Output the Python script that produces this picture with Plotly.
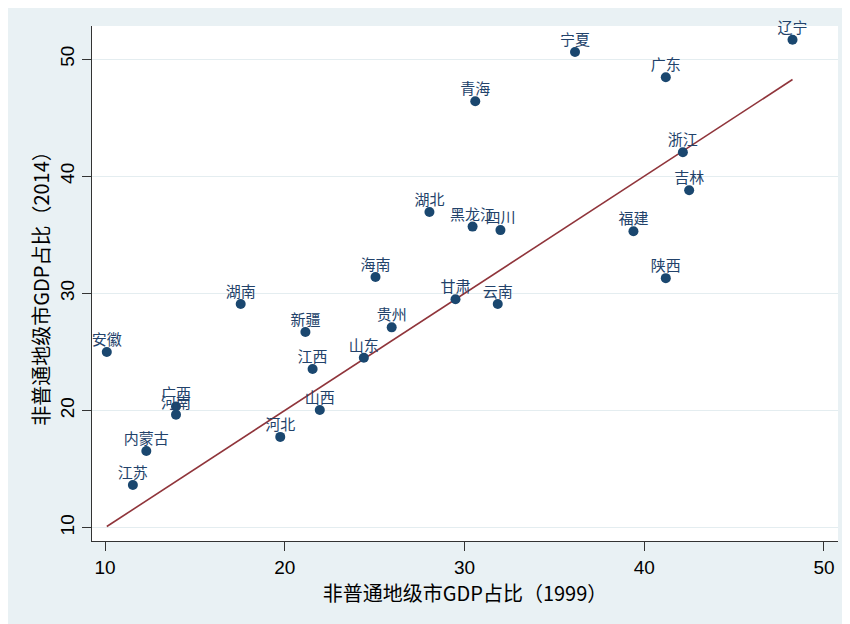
import plotly.graph_objects as go

# ---- data ----
provinces = ["辽宁", "宁夏", "广东", "青海", "浙江", "吉林", "福建", "陕西",
             "湖北", "黑龙江", "四川", "海南", "甘肃", "云南", "湖南", "新疆",
             "贵州", "山东", "江西", "安徽", "广西", "河南", "山西", "河北",
             "内蒙古", "江苏"]
gdp_share_1999 = [48.25, 36.15, 41.2, 30.6, 42.15, 42.5, 39.4, 41.2,
                  28.05, 30.45, 32.0, 25.05, 29.5, 31.85, 17.55, 21.15,
                  25.95, 24.4, 21.55, 10.1, 13.95, 13.95, 21.95, 19.75,
                  12.3, 11.55]
gdp_share_2014 = [51.65, 50.6, 48.45, 46.4, 42.05, 38.8, 35.3, 31.3,
                  36.95, 35.7, 35.4, 31.4, 29.5, 29.1, 29.1, 26.7,
                  27.1, 24.5, 23.55, 25.0, 20.35, 19.65, 20.05, 17.75,
                  16.55, 13.65]
x_ticks = [10, 20, 30, 40, 50]
y_ticks = [10, 20, 30, 40, 50]
x_title = "非普通地级市GDP占比（1999）"
y_title = "非普通地级市GDP占比（2014）"

# 45-degree reference line across the data's x span
line_lo = min(gdp_share_1999)
line_hi = max(gdp_share_1999)

NAVY = "#1a476f"
MAROON = "#90353b"
BG = "#e9f1f4"
AXIS = "#333333"

fig = go.Figure()
fig.add_trace(go.Scatter(
    x=[line_lo, line_hi], y=[line_lo, line_hi], mode="lines",
    line=dict(color=MAROON, width=1.6), hoverinfo="skip"))
fig.add_trace(go.Scatter(
    x=gdp_share_1999, y=gdp_share_2014, mode="markers",
    marker=dict(size=10, color=NAVY)))
# labels sit just above each point (small invisible marker keeps them close)
fig.add_trace(go.Scatter(
    x=gdp_share_1999, y=gdp_share_2014, mode="markers+text",
    text=provinces, textposition="top center", cliponaxis=False,
    marker=dict(size=3.6, color="rgba(0,0,0,0)"),
    textfont=dict(family="Noto Sans CJK SC", size=15, color="#22426a"),
    hoverinfo="skip"))

# page body has an 8px default margin; figure sits at (8, 8) in the window
W, H = 842, 616
PLOT_L, PLOT_R, PLOT_T, PLOT_B = 84, 830, 18, 533

fig.update_layout(
    width=W, height=H,
    margin=dict(l=PLOT_L, r=W - PLOT_R, t=PLOT_T, b=H - PLOT_B, pad=0),
    paper_bgcolor=BG, plot_bgcolor="white",
    showlegend=False,
)
fig.update_xaxes(
    range=[9.277, 50.78], tickvals=x_ticks, showgrid=False, zeroline=False,
    showline=True, linecolor=AXIS, linewidth=1.3,
    ticks="outside", ticklen=9, tickcolor=AXIS, tickwidth=1.3,
    tickfont=dict(family="Liberation Sans", size=19, color="black"),
    title=dict(text=x_title, standoff=0,
               font=dict(family="Noto Sans CJK SC", size=20, color="black")))
fig.update_yaxes(
    range=[8.865, 52.82], tickvals=y_ticks, showgrid=True,
    gridcolor="#e4edf0", gridwidth=1, zeroline=False,
    showline=True, linecolor=AXIS, linewidth=1.3,
    ticks="outside", ticklen=9, tickcolor=AXIS, tickwidth=1.3, tickangle=-90,
    tickfont=dict(family="Liberation Sans", size=19, color="black"),
    title=dict(text=y_title, standoff=2,
               font=dict(family="Noto Sans CJK SC", size=20, color="black")))

fig.write_html("out.html")
